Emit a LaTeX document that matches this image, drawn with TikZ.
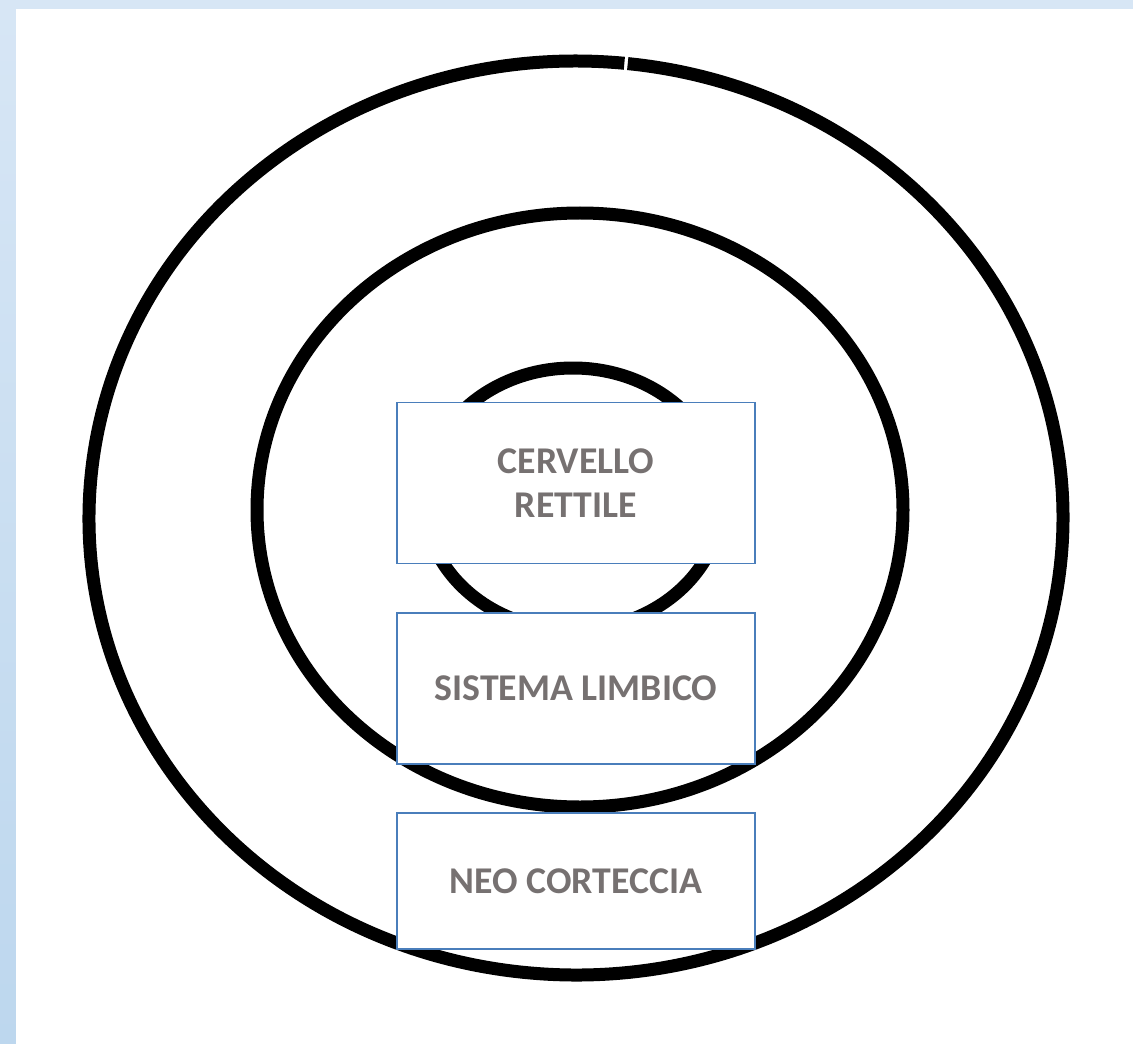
\documentclass[tikz,border=0pt]{standalone}
\usepackage{fontspec}
\setmainfont{Carlito}
\usepackage{xcolor}
\definecolor{bandtop}{HTML}{D7E6F5}
\definecolor{bandbot}{HTML}{BDD7EE}
\definecolor{boxline}{HTML}{4A7EBB}
\definecolor{labelgray}{HTML}{767171}

\begin{document}
\begin{tikzpicture}
  [x=0.02cm,y=-0.02cm,
   ring/.style={line width=0.26cm,black},
   label/.style={rectangle,draw=boxline,line width=1.1pt,fill=white,
     minimum width=7.16cm,inner sep=0pt,align=center,text=labelgray,
     font=\fontsize{21.5}{25}\selectfont\bfseries}]
  % background with the blue band
  \shade[top color=bandtop,bottom color=bandbot] (0,0) rectangle (1133,1044);
  \fill[white] (16,9) rectangle (1133,1044);
  \useasboundingbox (0,0) rectangle (1133,1044);

  % the three rings
  \draw[ring] (576,518) ++(-83.9:487 and 457) arc[start angle=-83.9,end angle=275.7,x radius=487,y radius=457];
  \draw[ring] (580,510) ellipse[x radius=323,y radius=297];
  \draw[ring] (573,499) ellipse[x radius=149,y radius=131];

  % labels
  \node[label,minimum height=3.22cm] (rettile)   at (576,483)   {CERVELLO\\RETTILE};
  \node[label,minimum height=3.02cm] (limbico)   at (576,688.5) {SISTEMA LIMBICO};
  \node[label,minimum height=2.72cm] (corteccia) at (576,881)   {NEO CORTECCIA};

\end{tikzpicture}
\end{document}
